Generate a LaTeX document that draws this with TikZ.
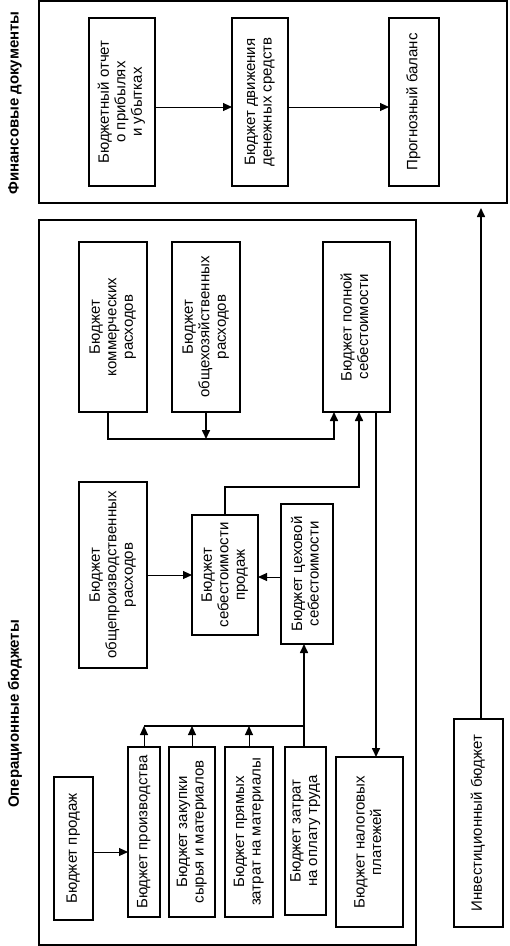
\documentclass[tikz,border=0pt]{standalone}
\usepackage{fontspec}
\setmainfont{Liberation Sans}
\usetikzlibrary{arrows.meta,positioning,calc}

\newcommand{\vtext}[1]{\rotatebox{90}{\begin{tabular}{@{}c@{}}#1\end{tabular}}}

\begin{document}
\begin{tikzpicture}[
  x=1pt,y=-1pt,
  every node/.style={inner sep=0pt,outer sep=0pt},
  frame/.style={draw,line width=1.8pt},
  box/.style={draw,line width=1.1pt,font=\fontsize{15}{16.5}\selectfont},
  sz/.style 2 args={minimum width=#1pt,minimum height=#2pt},
  title/.style={font=\fontsize{15}{16.5}\selectfont\bfseries,rotate=90},
  arr/.style={-{Triangle[length=9pt,width=8pt]},line width=1.6pt},
  tarr/.style={-{Triangle[length=9pt,width=8pt]},line width=1pt},
  bus/.style={line width=1.6pt}
]
  \useasboundingbox (0,0) rectangle (510,946);

  % Frames and titles
  \node[frame,sz={468}{202}] (finframe) at (273,102) {};
  \node[frame,sz={377}{725}] (opframe) at (227.5,582.5) {};
  \node[title] (fintitle) at (15,103) {Финансовые документы};
  \node[title] (optitle) at (15,714) {Операционные бюджеты};

  % Financial documents
  \node[box,sz={66}{168}] (pnl) at (122,102) {\vtext{Бюджетный отчет\\о прибылях\\и убытках}};
  \node[box,sz={56}{168}] (cash) at (260,102) {\vtext{Бюджет движения\\денежных средств}};
  \node[box,sz={50}{168}] (bal) at (414,102) {\vtext{Прогнозный баланс}};

  \draw[tarr] ([yshift=-5pt]pnl.east) -- ([yshift=-5pt]cash.west);
  \draw[tarr] ([yshift=-5pt]cash.east) -- ([yshift=-5pt]bal.west);

  % Operational budgets, upper row
  \node[box,sz={68}{170}] (comm) at (113,327) {\vtext{Бюджет\\коммерческих\\расходов}};
  \node[box,sz={68}{170}] (gen) at (206,327) {\vtext{Бюджет\\общехозяйственных\\расходов}};
  \node[box,sz={67}{170}] (full) at (356.5,327) {\vtext{Бюджет полной\\себестоимости}};

  % Middle row
  \node[box,sz={68}{186}] (ovh) at (113,575) {\vtext{Бюджет\\общепроизводственных\\расходов}};
  \node[box,sz={66}{120}] (cogs) at (225,575) {\vtext{Бюджет\\себестоимости\\продаж}};
  \node[box,sz={52}{140}] (shop) at (307,574) {\vtext{Бюджет цеховой\\себестоимости}};

  % Lower row
  \node[box,sz={39}{143}] (sales) at (73.5,848.5) {\vtext{Бюджет продаж}};
  \node[box,sz={32}{170}] (prod) at (144,832) {\vtext{Бюджет производства}};
  \node[box,sz={46}{170}] (purch) at (192,832) {\vtext{Бюджет закупки\\сырья и материалов}};
  \node[box,sz={48}{170}] (mat) at (249,832) {\vtext{Бюджет прямых\\затрат на материалы}};
  \node[box,sz={41}{168}] (labor) at (305.5,831) {\vtext{Бюджет затрат\\на оплату труда}};
  \node[box,sz={67}{170}] (tax) at (369.5,842) {\vtext{Бюджет налоговых\\платежей}};
  \node[box,sz={49}{208}] (inv) at (478.5,823) {\vtext{Инвестиционный бюджет}};

  \coordinate (busA) at (0,439);
  \coordinate (busB) at (0,726);

  % Expenses to full cost
  \draw[arr] ([xshift=-5pt]comm.south) |- ([xshift=-22.5pt]full.south |- busA) -- ([xshift=-22.5pt]full.south);
  \draw[arr] (gen.south) -- (gen.south |- busA);
  \draw[arr] (cogs.north) -- ++(0,-28) -| ([xshift=2.5pt]full.south);
  \draw[arr] ([xshift=19.5pt]full.south) -- ([xshift=6.5pt]tax.north);

  % Cost of sales
  \draw[tarr] (ovh.east) -- (ovh.east -| cogs.west);
  \draw[tarr] ([yshift=-3pt]shop.west) -- ([yshift=-3pt]shop.west -| cogs.east);

  % Sales and production budgets
  \draw[tarr] ([yshift=-3.5pt]sales.east) -- ([yshift=-3.5pt]sales.east -| prod.west);
  \draw[bus] (prod.north |- busB) -- ([xshift=-1.5pt]labor.north |- busB);
  \draw[tarr] (prod.north) -- (prod.north |- busB);
  \draw[tarr] (purch.north) -- (purch.north |- busB);
  \draw[tarr] (mat.north) -- (mat.north |- busB);
  \draw[arr] ([xshift=-1.5pt]labor.north) -- ([xshift=-3pt]shop.south);

  % Investment budget
  \draw[arr,shorten >=5pt] ([xshift=2.5pt]inv.north) -- ([xshift=2.5pt]inv.north |- finframe.south);
\end{tikzpicture}
\end{document}
